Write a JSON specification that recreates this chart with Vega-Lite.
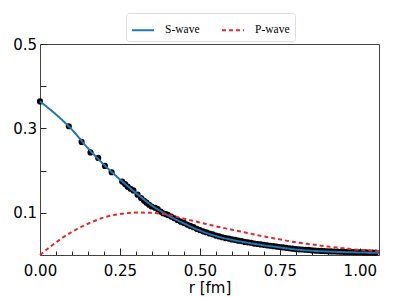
{
  "$schema": "https://vega.github.io/schema/vega-lite/v6.json",
  "autosize": "none",
  "width": 339,
  "height": 211,
  "padding": {"left": 40, "top": 44, "right": 20, "bottom": 42},
  "config": {
    "view": {"stroke": "#444", "strokeWidth": 1},
    "axis": {"grid": false, "domainColor": "#444", "tickColor": "#222", "labelColor": "#000", "titleColor": "#000", "labelFont": "DejaVu Sans", "titleFont": "DejaVu Sans", "labelFontSize": 15, "titleFontSize": 15, "titleFontWeight": "normal", "labelFlush": false, "labelOverlap": false}
  },
  "datasets": {
    "curves": [
      {"r": 0.0, "y": 0.364, "wave": "S-wave"},
      {"r": 0.05, "y": 0.333, "wave": "S-wave"},
      {"r": 0.1, "y": 0.297, "wave": "S-wave"},
      {"r": 0.15, "y": 0.253, "wave": "S-wave"},
      {"r": 0.2, "y": 0.214, "wave": "S-wave"},
      {"r": 0.25, "y": 0.179, "wave": "S-wave"},
      {"r": 0.3, "y": 0.147, "wave": "S-wave"},
      {"r": 0.35, "y": 0.117, "wave": "S-wave"},
      {"r": 0.4, "y": 0.094, "wave": "S-wave"},
      {"r": 0.45, "y": 0.075, "wave": "S-wave"},
      {"r": 0.5, "y": 0.058, "wave": "S-wave"},
      {"r": 0.55, "y": 0.045, "wave": "S-wave"},
      {"r": 0.6, "y": 0.036, "wave": "S-wave"},
      {"r": 0.65, "y": 0.029, "wave": "S-wave"},
      {"r": 0.7, "y": 0.023, "wave": "S-wave"},
      {"r": 0.75, "y": 0.018, "wave": "S-wave"},
      {"r": 0.8, "y": 0.013, "wave": "S-wave"},
      {"r": 0.85, "y": 0.010, "wave": "S-wave"},
      {"r": 0.9, "y": 0.0082, "wave": "S-wave"},
      {"r": 0.95, "y": 0.0069, "wave": "S-wave"},
      {"r": 1.0, "y": 0.006, "wave": "S-wave"},
      {"r": 1.06, "y": 0.005, "wave": "S-wave"},
      {"r": 0.0, "y": 0.0, "wave": "P-wave"},
      {"r": 0.05, "y": 0.030, "wave": "P-wave"},
      {"r": 0.1, "y": 0.055, "wave": "P-wave"},
      {"r": 0.15, "y": 0.074, "wave": "P-wave"},
      {"r": 0.2, "y": 0.089, "wave": "P-wave"},
      {"r": 0.25, "y": 0.097, "wave": "P-wave"},
      {"r": 0.3, "y": 0.1005, "wave": "P-wave"},
      {"r": 0.35, "y": 0.1, "wave": "P-wave"},
      {"r": 0.4, "y": 0.095, "wave": "P-wave"},
      {"r": 0.45, "y": 0.086, "wave": "P-wave"},
      {"r": 0.5, "y": 0.077, "wave": "P-wave"},
      {"r": 0.55, "y": 0.068, "wave": "P-wave"},
      {"r": 0.6, "y": 0.060, "wave": "P-wave"},
      {"r": 0.65, "y": 0.052, "wave": "P-wave"},
      {"r": 0.7, "y": 0.044, "wave": "P-wave"},
      {"r": 0.75, "y": 0.037, "wave": "P-wave"},
      {"r": 0.8, "y": 0.030, "wave": "P-wave"},
      {"r": 0.85, "y": 0.025, "wave": "P-wave"},
      {"r": 0.9, "y": 0.020, "wave": "P-wave"},
      {"r": 0.95, "y": 0.016, "wave": "P-wave"},
      {"r": 1.0, "y": 0.012, "wave": "P-wave"},
      {"r": 1.06, "y": 0.009, "wave": "P-wave"}
    ],
    "pts": [
      {"r": 0.0, "y": 0.364}, {"r": 0.09, "y": 0.305}, {"r": 0.13, "y": 0.268}, {"r": 0.158, "y": 0.243},
      {"r": 0.182, "y": 0.230}, {"r": 0.203, "y": 0.211}, {"r": 0.224, "y": 0.196}, {"r": 0.257, "y": 0.174},
      {"r": 0.266, "y": 0.168}, {"r": 0.274, "y": 0.162}, {"r": 0.283, "y": 0.157}, {"r": 0.292, "y": 0.153},
      {"r": 0.305, "y": 0.143}, {"r": 0.316, "y": 0.135}, {"r": 0.325, "y": 0.129}, {"r": 0.333, "y": 0.124},
      {"r": 0.341, "y": 0.119}, {"r": 0.349, "y": 0.115}, {"r": 0.36, "y": 0.112}, {"r": 0.368, "y": 0.109},
      {"r": 0.377, "y": 0.103}, {"r": 0.385, "y": 0.099}, {"r": 0.393, "y": 0.097},
      {"r": 0.40, "y": 0.095}, {"r": 0.41, "y": 0.091}, {"r": 0.42, "y": 0.087}, {"r": 0.43, "y": 0.083},
      {"r": 0.44, "y": 0.079}, {"r": 0.45, "y": 0.076}, {"r": 0.46, "y": 0.072}, {"r": 0.47, "y": 0.069},
      {"r": 0.48, "y": 0.066}, {"r": 0.49, "y": 0.062}, {"r": 0.50, "y": 0.059}, {"r": 0.51, "y": 0.056},
      {"r": 0.52, "y": 0.054}, {"r": 0.53, "y": 0.051}, {"r": 0.54, "y": 0.049}, {"r": 0.55, "y": 0.046},
      {"r": 0.56, "y": 0.044}, {"r": 0.57, "y": 0.042}, {"r": 0.58, "y": 0.040}, {"r": 0.59, "y": 0.039},
      {"r": 0.60, "y": 0.037}, {"r": 0.61, "y": 0.036}, {"r": 0.62, "y": 0.034}, {"r": 0.63, "y": 0.033},
      {"r": 0.64, "y": 0.031}, {"r": 0.65, "y": 0.030}, {"r": 0.66, "y": 0.029}, {"r": 0.67, "y": 0.027},
      {"r": 0.68, "y": 0.026}, {"r": 0.69, "y": 0.025}, {"r": 0.70, "y": 0.024}, {"r": 0.71, "y": 0.023},
      {"r": 0.72, "y": 0.022}, {"r": 0.73, "y": 0.021}, {"r": 0.74, "y": 0.020}, {"r": 0.75, "y": 0.019},
      {"r": 0.76, "y": 0.018}, {"r": 0.77, "y": 0.017}, {"r": 0.78, "y": 0.016}, {"r": 0.79, "y": 0.015},
      {"r": 0.80, "y": 0.014}, {"r": 0.81, "y": 0.0135}, {"r": 0.82, "y": 0.013}, {"r": 0.83, "y": 0.0125},
      {"r": 0.84, "y": 0.012}, {"r": 0.85, "y": 0.011}, {"r": 0.86, "y": 0.0105}, {"r": 0.87, "y": 0.010},
      {"r": 0.88, "y": 0.0097}, {"r": 0.89, "y": 0.0093}, {"r": 0.90, "y": 0.0089}, {"r": 0.91, "y": 0.0085},
      {"r": 0.92, "y": 0.0082}, {"r": 0.93, "y": 0.0080}, {"r": 0.94, "y": 0.0078}, {"r": 0.95, "y": 0.0075},
      {"r": 0.96, "y": 0.0073}, {"r": 0.97, "y": 0.0071}, {"r": 0.98, "y": 0.0069}, {"r": 0.99, "y": 0.0067},
      {"r": 1.00, "y": 0.0065}, {"r": 1.01, "y": 0.0063}, {"r": 1.02, "y": 0.0061}, {"r": 1.03, "y": 0.0059},
      {"r": 1.04, "y": 0.0057}, {"r": 1.05, "y": 0.0055}
    ]
  },
  "layer": [
    {
      "data": {"name": "pts"},
      "mark": {"type": "point", "filled": true, "color": "#000", "size": 38, "opacity": 1},
      "encoding": {
        "x": {"field": "r", "type": "quantitative", "scale": {"domain": [0, 1.06], "nice": false, "zero": false},
          "axis": {"orient": "bottom", "values": [0.05, 0.1, 0.15, 0.2, 0.3, 0.35, 0.4, 0.45, 0.55, 0.6, 0.65, 0.7, 0.8, 0.85, 0.9, 0.95, 1.05], "labels": false, "tickSize": -4, "title": null, "domain": false}},
        "y": {"field": "y", "type": "quantitative", "scale": {"domain": [0, 0.5], "nice": false},
          "axis": {"values": [0.1, 0.2, 0.3, 0.4, 0.5], "labelExpr": "datum.value == 0.1 || datum.value == 0.3 || datum.value == 0.5 ? format(datum.value, '.1f') : ''", "tickSize": -6, "labelPadding": 9.5, "title": null}}
      }
    },
    {
      "data": {"name": "curves"},
      "mark": {"type": "line", "strokeWidth": 2, "interpolate": "monotone"},
      "encoding": {
        "x": {"field": "r", "type": "quantitative",
          "axis": {"orient": "bottom", "values": [0, 0.25, 0.5, 0.75, 1.0], "format": ".2f", "tickSize": -7, "labelPadding": 15.5, "title": "r [fm]", "titlePadding": 2}},
        "y": {"field": "y", "type": "quantitative"},
        "color": {"field": "wave", "type": "nominal", "scale": {"domain": ["S-wave", "P-wave"], "range": ["#1f77b4", "#e8262a"]},
          "legend": {"orient": "none", "legendX": 86, "legendY": -31, "direction": "horizontal", "title": null, "symbolType": "stroke", "symbolSize": 484, "symbolStrokeWidth": 2, "labelFont": "Liberation Serif", "labelFontSize": 11.5, "labelColor": "#000", "labelOffset": 10, "columnPadding": 18, "padding": 5, "strokeColor": "#ddd", "cornerRadius": 3, "fillColor": "#fff"}},
        "strokeDash": {"field": "wave", "type": "nominal", "scale": {"domain": ["S-wave", "P-wave"], "range": [[1, 0], [4, 3]]}, "legend": {"orient": "none", "legendX": 86, "legendY": -31, "direction": "horizontal", "title": null, "symbolType": "stroke", "symbolSize": 484, "symbolStrokeWidth": 2, "labelFont": "Liberation Serif", "labelFontSize": 11.5, "labelColor": "#000", "labelOffset": 10, "columnPadding": 18, "padding": 5, "strokeColor": "#ddd", "cornerRadius": 3, "fillColor": "#fff"}}
      }
    }
  ],
  "resolve": {"axis": {"x": "independent"}}
}
